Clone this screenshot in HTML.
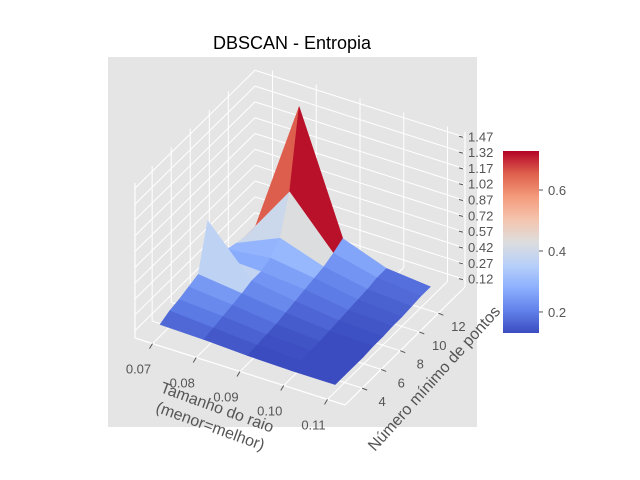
<!DOCTYPE html>
<html><head><meta charset="utf-8"><style>
body{margin:0;background:#fff}
svg{display:block;font-family:"Liberation Sans","DejaVu Sans",sans-serif}
</style></head><body>
<svg id="c" width="640" height="480" viewBox="0 0 640 480">
<rect x="0" y="0" width="640" height="480" fill="#fff"/>
<rect x="108" y="57" width="369" height="370" fill="#e5e5e5"/>
<text x="292" y="49" font-size="18" text-anchor="middle" fill="#000">DBSCAN - Entropia</text>
<g id="grid"></g><g id="surf"></g>
<g transform="translate(214,416) rotate(20)" font-size="16" fill="#555" text-anchor="middle">
<text x="0" y="-4">Tamanho do raio</text><text x="0" y="16">(menor=melhor)</text></g>
<text transform="translate(438,382) rotate(-48)" font-size="16" fill="#555" text-anchor="middle">Número mínimo de pontos</text>
<rect x="503" y="57" width="60" height="300" fill="#fff"/>
<g id="ticks" font-size="13" fill="#555"></g>
<defs><linearGradient id="cw" x1="0" y1="1" x2="0" y2="0">
<stop offset="0" stop-color="#3b4cc0"/><stop offset="0.125" stop-color="#6282ea"/><stop offset="0.25" stop-color="#8db0fe"/><stop offset="0.375" stop-color="#b8d0f9"/><stop offset="0.5" stop-color="#dddddd"/><stop offset="0.625" stop-color="#f5c4ad"/><stop offset="0.75" stop-color="#f49a7b"/><stop offset="0.875" stop-color="#de604d"/><stop offset="1" stop-color="#b40426"/></linearGradient></defs>
<rect x="503" y="151" width="36" height="182" fill="url(#cw)"/>
<g id="cbt" font-size="13" fill="#555"></g>
</svg>
<script>
const radii=[0.07,0.08,0.09,0.10,0.11];
const minPts=[3,4,5,6,7,8,9,10,11,12,13];
const entropy=[
[0.16,0.15,0.13,0.12,0.12],
[0.20,0.17,0.14,0.12,0.12],
[0.22,0.19,0.15,0.13,0.12],
[0.25,0.21,0.16,0.13,0.12],
[0.28,0.23,0.18,0.14,0.13],
[0.70,0.26,0.20,0.15,0.13],
[0.28,0.26,0.22,0.16,0.14],
[0.25,0.30,0.24,0.17,0.14],
[0.22,0.40,0.26,0.18,0.15],
[0.20,0.75,0.30,0.20,0.16],
[0.20,1.47,0.35,0.20,0.16]];
const zTicks=[0.12,0.27,0.42,0.57,0.72,0.87,1.02,1.17,1.32,1.47];
const xTicks=[0.07,0.08,0.09,0.10,0.11];
const yTicks=[4,6,8,10,12];
const cbTicks=[0.2,0.4,0.6];
const NS="http://www.w3.org/2000/svg";
const X0=0.066,X1=0.114,Y0=2.2,Y1=14.8,Z0=0.05,Z1=1.52;
function P(x,y,z){const u=(x-X0)/(X1-X0),v=(y-Y0)/(Y1-Y0),w=(z-Z0)/(Z1-Z0);
return [135+u*210+v*120, 338+u*67-v*118-w*155];}
function el(t,a,p){const e=document.createElementNS(NS,t);for(const k in a)e.setAttribute(k,a[k]);p.appendChild(e);return e;}
const stops=[[59,76,192],[98,130,234],[141,176,254],[184,208,249],[221,221,221],[245,196,173],[244,154,123],[222,96,77],[180,4,38]];
function cmap(t){t=Math.max(0,Math.min(1,t))*8;const i=Math.min(7,Math.floor(t)),f=t-i;const a=stops[i],b=stops[i+1];
return `rgb(${a.map((c,k)=>Math.round(c+(b[k]-c)*f)).join(',')})`;}
const VMIN=0.131,VMAX=0.728;
const g=document.getElementById('grid');
function line(a,b,par,c,w){return el('line',{x1:a[0],y1:a[1],x2:b[0],y2:b[1],stroke:c||'#fff','stroke-width':w||1},par);}
xTicks.forEach(x=>line(P(x,Y0,Z0),P(x,Y1,Z0),g));
yTicks.forEach(y=>line(P(X0,y,Z0),P(X1,y,Z0),g));
yTicks.forEach(y=>line(P(X0,y,Z0),P(X0,y,Z1),g));
zTicks.forEach(z=>line(P(X0,Y0,z),P(X0,Y1,z),g));
xTicks.forEach(x=>line(P(x,Y1,Z0),P(x,Y1,Z1),g));
zTicks.forEach(z=>line(P(X0,Y1,z),P(X1,Y1,z),g));
[[P(X0,Y0,Z0),P(X1,Y0,Z0)],[P(X1,Y0,Z0),P(X1,Y1,Z0)],[P(X0,Y0,Z0),P(X0,Y0,Z1)],[P(X1,Y1,Z0),P(X1,Y1,Z1)]].forEach(e=>line(e[0],e[1],g,'#fff',1.2));
const s=document.getElementById('surf');const faces=[];
for(let j=0;j<minPts.length-1;j++)for(let i=0;i<radii.length-1;i++){
const c=[[i,j],[i+1,j],[i+1,j+1],[i,j+1]];
const zs=c.map(([a,b])=>entropy[b][a]);const zm=zs.reduce((p,q)=>p+q)/4;
const pts=c.map(([a,b])=>P(radii[a],minPts[b],entropy[b][a]));
faces.push({pts,zm,d:(j+0.5)/minPts.length-(i+0.5)/radii.length});}
faces.sort((a,b)=>b.d-a.d);
faces.forEach(f=>{const col=cmap((f.zm-VMIN)/(VMAX-VMIN));
const p=el('polygon',{points:f.pts.map(q=>q.join(',')).join(' '),fill:col,stroke:col,'stroke-width':0.6},s);

});
const t=document.getElementById('ticks');
zTicks.forEach(z=>{const a=P(X1,Y1,z);line([a[0]-6,a[1]-1],[a[0]-2,a[1]],t,'#555',1);
const e=el('text',{x:a[0]+3,y:a[1]+4},t);e.textContent=z.toFixed(2);

});
xTicks.forEach(x=>{const a=P(x,Y0,Z0);line(a,[a[0]-3,a[1]+5],t,'#555',1);
const e=el('text',{x:a[0]-14,y:a[1]+30,'text-anchor':'middle'},t);e.textContent=x.toFixed(2);

});
yTicks.forEach(y=>{const a=P(X1,y,Z0);line(a,[a[0]+5,a[1]+2],t,'#555',1);
const e=el('text',{x:a[0]+20,y:a[1]+18,'text-anchor':'middle'},t);e.textContent=y;

});
const cb=document.getElementById('cbt');
cbTicks.forEach(v=>{const y=333-(v-VMIN)/(VMAX-VMIN)*182;line([539,y],[543,y],cb,'#555',1);
const e=el('text',{x:548,y:y+5},cb);e.textContent=v.toFixed(1);

});
</script>
</body></html>
